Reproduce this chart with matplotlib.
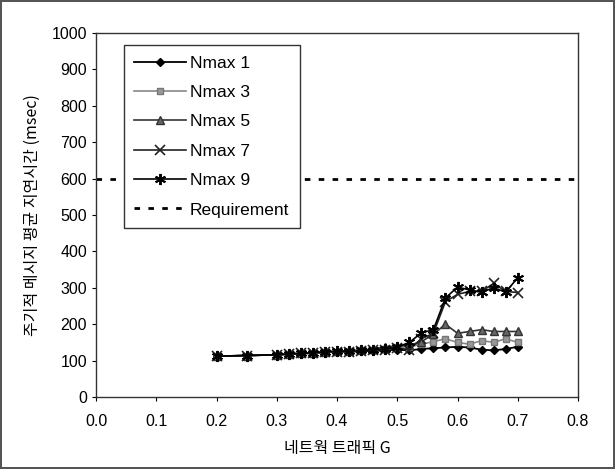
import matplotlib
matplotlib.use("Agg")
import matplotlib.pyplot as plt
import numpy as np

plt.rcParams["font.family"] = ["Liberation Sans", "Noto Sans CJK KR", "DejaVu Sans"]

# traffic load G
g = [0.20, 0.25, 0.30, 0.32, 0.34, 0.36, 0.38, 0.40, 0.42, 0.44, 0.46, 0.48,
     0.50, 0.52, 0.54, 0.56, 0.58, 0.60, 0.62, 0.64, 0.66, 0.68, 0.70]

nmax1 = [112, 114, 116, 118, 119, 120, 122, 124, 124, 126, 126, 128,
         130, 128, 132, 134, 136, 138, 136, 130, 128, 132, 138]
nmax3 = [112, 114, 116, 118, 120, 121, 123, 125, 126, 128, 130, 133,
         137, 138, 145, 152, 160, 150, 145, 155, 150, 160, 150]
nmax5 = [112, 114, 116, 118, 120, 122, 124, 126, 127, 129, 132, 138,
         140, 142, 152, 172, 200, 175, 180, 185, 180, 180, 180]
nmax7 = [112, 114, 116, 118, 120, 121, 123, 125, 124, 127, 128, 130,
         135, 130, 160, 175, 262, 282, 290, 290, 312, 290, 287]
nmax9 = [112, 114, 116, 118, 120, 122, 124, 126, 126, 128, 130, 132,
         137, 150, 176, 185, 272, 302, 294, 288, 300, 288, 328]
requirement = 600

fig = plt.figure(figsize=(6.15, 4.69), dpi=100)
fig.patch.set_edgecolor("#555555")
fig.patch.set_linewidth(1.5)
ax = fig.add_axes([96 / 615, 72 / 469, 482 / 615, 364 / 469])

ax.plot(g, nmax1, color="black", lw=1.3, marker="D", ms=4.5, mfc="black", mec="black", label="Nmax 1")
ax.plot(g, nmax3, color="#888888", lw=1.2, marker="s", ms=5, mfc="#999999", mec="#777777", label="Nmax 3")
ax.plot(g, nmax5, color="#333333", lw=1.2, marker="^", ms=6, mfc="#666666", mec="#333333", label="Nmax 5")
ax.plot(g, nmax7, color="#222222", lw=1.2, marker="x", ms=7, mew=1.2, label="Nmax 7")
ax.plot(g, nmax9, color="black", lw=1.2, marker=(6, 2, 0), ms=8, mew=1.4, mec="black", label="Nmax 9")
ax.plot([0.0, 0.8], [requirement, requirement], color="black", lw=2, ls=(0, (2, 3)), label="Requirement")

ax.set_xlim(0.0, 0.8)
ax.set_ylim(0, 1000)
ax.set_xticks(np.arange(0.0, 0.81, 0.1))
ax.set_xticklabels([f"{v:.1f}" for v in np.arange(0.0, 0.81, 0.1)])
ax.set_yticks(range(0, 1001, 100))
ax.tick_params(labelsize=11.5, length=3, width=0.8)
ax.tick_params(axis="x", pad=9)
for spine in ax.spines.values():
    spine.set_linewidth(1.0)
    spine.set_color("#333333")

ax.set_xlabel("네트웍 트래픽 G", fontsize=11.5, labelpad=8,
              family=["Noto Sans CJK KR", "DejaVu Sans"])
ax.set_ylabel("주기적 메시지 평균 지연시간 (msec)", fontsize=11.5, labelpad=8,
              family=["Noto Sans CJK KR", "DejaVu Sans"])

leg = ax.legend(loc="upper left", bbox_to_anchor=(0.058, 0.967), borderaxespad=0,
                fontsize=12.5, handlelength=3.0, labelspacing=0.82, borderpad=0.6,
                handletextpad=0.2, fancybox=False, framealpha=1)
leg.get_frame().set_edgecolor("#333333")
leg.get_frame().set_linewidth(1.0)

fig.savefig("out.png", dpi=100)
